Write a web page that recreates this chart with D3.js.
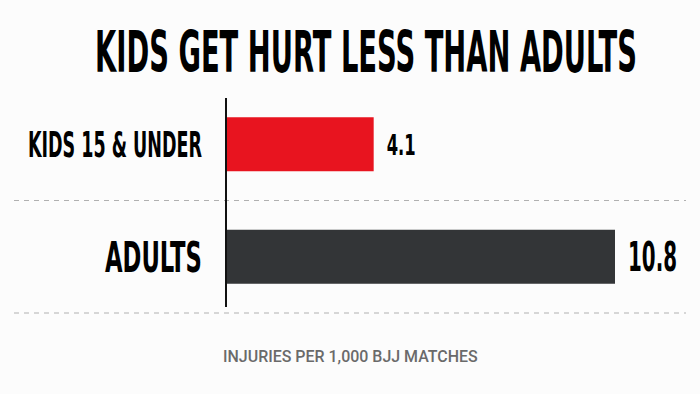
<!doctype html>
<html lang="en">
  <head>
    <meta charset="utf-8">
    <title>Kids get hurt less than adults</title>
    <script src="https://d3js.org/d3.v7.min.js"></script>
    <style>
      html, body { margin: 0; padding: 0; background: #fcfcfc; }
      svg { display: block; }
    </style>
  </head>
  <body>
    <svg width="700" height="394"></svg>
    <script>
      // chart data
      var categories = ["KIDS 15 & UNDER", "ADULTS"];
      var values = [4.1, 10.8];
      var valueLabels = ["4.1", "10.8"];
      var barColors = ["#e8141f", "#333537"];

      var svg = d3.select("svg"),
          condensed = "'Liberation Sans Narrow', 'DejaVu Sans Condensed', 'Liberation Sans', sans-serif";

      var x = d3.scaleLinear()
                .domain([0, 10.8])
                .range([226, 615]);
      var y = d3.scaleBand()
                .domain(categories)
                .range([88, 313])
                .paddingInner(0.52)
                .paddingOuter(0.26);

      // squeeze a text horizontally into a given width (the poster uses a very condensed face)
      function squeeze(text, left, baseline, width) {
        var w = text.node().getComputedTextLength();
        text.attr("x", 0).attr("y", 0)
            .attr("transform", "translate(" + left + "," + baseline + ") scale(" + (width / w) + ",1)");
      }

      // title
      var title = svg.append("text")
          .attr("font-family", condensed)
          .attr("font-weight", "bold")
          .attr("font-size", 57)
          .attr("fill", "#000")
          .text("KIDS GET HURT LESS THAN ADULTS");
      squeeze(title, 95, 72, 542);

      // dashed separators
      var step = y.step();
      svg.selectAll("line.sep")
        .data(categories)
        .enter().append("line")
          .attr("class", "sep")
          .attr("x1", 14)
          .attr("x2", 686)
          .attr("y1", function(d) { return y(d) + y.bandwidth() + (step - y.bandwidth()) / 2; })
          .attr("y2", function(d) { return y(d) + y.bandwidth() + (step - y.bandwidth()) / 2; })
          .attr("stroke", "#b0b0b0")
          .attr("stroke-width", 1)
          .attr("stroke-dasharray", "5,5");

      // bars
      svg.selectAll("rect.bar")
        .data(values)
        .enter().append("rect")
          .attr("class", "bar")
          .attr("x", x(0))
          .attr("y", function(d, i) { return y(categories[i]); })
          .attr("width", function(d) { return x(d) - x(0); })
          .attr("height", y.bandwidth())
          .attr("fill", function(d, i) { return barColors[i]; });

      // baseline
      svg.append("line")
          .attr("x1", x(0))
          .attr("x2", x(0))
          .attr("y1", 98)
          .attr("y2", 307)
          .attr("stroke", "#111")
          .attr("stroke-width", 2);

      // category labels
      var labelSizes = [35, 42],
          labelWidths = [174, 97];
      svg.selectAll("text.cat")
        .data(categories)
        .enter().append("text")
          .attr("class", "cat")
          .attr("font-family", condensed)
          .attr("font-weight", "bold")
          .attr("font-size", function(d, i) { return labelSizes[i]; })
          .attr("fill", "#000")
          .text(function(d) { return d; })
          .each(function(d, i) {
            var t = d3.select(this),
                base = y(d) + y.bandwidth() / 2 + labelSizes[i] * 0.36;
            squeeze(t, 202 - labelWidths[i], base, labelWidths[i]);
          });

      // value labels
      var valueSizes = [29, 40],
          valueWidths = [29, 49];
      svg.selectAll("text.val")
        .data(values)
        .enter().append("text")
          .attr("class", "val")
          .attr("font-family", condensed)
          .attr("font-weight", "bold")
          .attr("font-size", function(d, i) { return valueSizes[i]; })
          .attr("fill", "#000")
          .text(function(d, i) { return valueLabels[i]; })
          .each(function(d, i) {
            var t = d3.select(this),
                base = y(categories[i]) + y.bandwidth() / 2 + valueSizes[i] * 0.36;
            squeeze(t, x(d) + 13, base, valueWidths[i]);
          });

      // footer
      var foot = svg.append("text")
          .attr("font-family", "Roboto, 'Liberation Sans', sans-serif")
          .attr("font-weight", 500)
          .attr("font-size", 16.5)
          .attr("fill", "#6a6a6a")
          .text("INJURIES PER 1,000 BJJ MATCHES");
      squeeze(foot, 223, 362, 255);
    </script>
  </body>
</html>
